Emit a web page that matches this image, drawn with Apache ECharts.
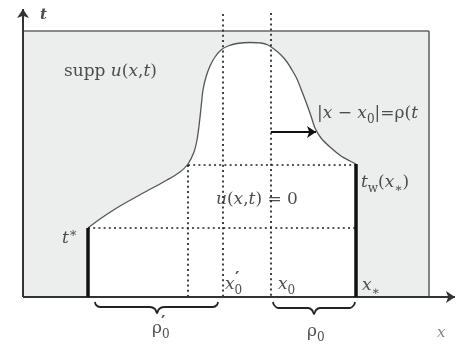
<!DOCTYPE html>
<html>
<head>
<meta charset="utf-8">
<script src="https://cdn.jsdelivr.net/npm/echarts@6/dist/echarts.min.js"></script>
<style>
  html, body { margin: 0; padding: 0; background: #fff; }
  #main { width: 461px; height: 351px; }
</style>
</head>
<body>
<div id="main"></div>
<script>
// diagram units (0..461 across, 0..351 down)
const boxCorners = [[23, 31], [429, 297]];
// free boundary |x - x0| = rho(t)
const curvePts = [
  [88, 228], [100, 219], [120, 206], [145, 192], [167, 180], [180, 172], [188, 164],
  [194, 152], [197, 140], [199, 126], [201, 108], [203, 90], [206, 77], [210, 66],
  [215, 57], [221, 50], [228, 46], [237, 43.5], [250, 42.5], [261, 43], [268, 45],
  [274, 49], [281, 55], [287, 62], [292, 70], [297, 79], [301, 89], [306, 102],
  [311, 116], [315, 128], [321, 138], [330, 147], [341, 156], [350, 161], [356, 164]
];
const frameLines = [[[23, 31], [429, 31]], [[429, 31], [429, 297]]];
const axisLines = [[[23, 297], [23, 9]], [[23, 297], [455, 297]]];
const dottedLines = [
  [[223, 14], [223, 297]], [[271, 13], [271, 297]], [[188, 165], [188, 297]],
  [[188, 165], [356, 165]], [[88, 228], [356, 228]]
];
const thickLines = [[[88, 228], [88, 297]], [[356, 164], [356, 297]]];
const arrowLine = [[[271, 132], [316, 132]]];
const braceLeft = [[95, 302], [96, 305], [100, 307], [150, 307], [155, 309], [157, 313], [159, 309], [164, 307], [213, 307], [217, 305], [218, 302]];
const braceRight = [[273, 302], [274, 305], [278, 308], [308, 308], [312, 310], [314, 314], [316, 310], [320, 308], [350, 308], [354, 305], [355, 302]];
const annotations = [
  [40, 15, '{bi|t}'],
  [64, 72, '{r|supp }{i|u}{r|(}{i|x}{r|,}{i|t}{r|)}'],
  [317, 114, '{r||}{i|x}{r| − }{i|x}{sub|0}{r||=ρ(}{i|t}'],
  [361, 183, '{i|t}{sub|w}{r|(}{i|x}{sub|∗}{r|)}'],
  [216, 200, '{i|u}{r|(}{i|x}{r|,}{i|t}{r|) = 0}'],
  [62, 239, '{i|t}{sup|∗}'],
  [225, 285, '{i|x}{sub|0}'],
  [235, 279, '{p|′}'],
  [278, 285, '{i|x}{sub|0}'],
  [362, 286, '{i|x}{sub|∗}'],
  [152, 329, '{r|ρ}{sub|0}'],
  [161, 323, '{p|′}'],
  [307, 332, '{r|ρ}{sub|0}'],
  [437, 333, '{x|x}']
];

const serif = '"DejaVu Serif", "Liberation Serif", serif';
const ink = '#222';

function segs(list) {
  return list.map(function (s) { return { coords: s }; });
}

const chart = echarts.init(document.getElementById('main'));
chart.setOption({
  animation: false,
  backgroundColor: '#fff',
  grid: { left: 0, right: 0, top: 0, bottom: 0 },
  xAxis: { type: 'value', min: 0, max: 461, show: false },
  yAxis: { type: 'value', min: 0, max: 351, inverse: true, show: false },
  series: [
    {
      type: 'line', data: [], z: 1, silent: true,
      markArea: {
        silent: true,
        itemStyle: { color: '#eceeed' },
        data: [[{ coord: boxCorners[0] }, { coord: boxCorners[1] }]]
      }
    },
    {
      type: 'line', data: curvePts, z: 2, smooth: 0.3, symbol: 'none', silent: true,
      lineStyle: { color: '#555', width: 1.3 },
      areaStyle: { color: '#fff', opacity: 1, origin: 'end' }
    },
    {
      type: 'lines', coordinateSystem: 'cartesian2d', z: 3, silent: true,
      lineStyle: { color: '#666', width: 1.6, opacity: 1 },
      data: segs(frameLines)
    },
    {
      type: 'lines', coordinateSystem: 'cartesian2d', z: 4, silent: true,
      lineStyle: { color: ink, width: 1.7, type: [2, 3.2], opacity: 1 },
      data: segs(dottedLines)
    },
    {
      type: 'lines', coordinateSystem: 'cartesian2d', z: 5, silent: true,
      symbol: ['none', 'arrow'], symbolSize: 9,
      lineStyle: { color: '#333', width: 2, opacity: 1 },
      data: segs(axisLines)
    },
    {
      type: 'lines', coordinateSystem: 'cartesian2d', z: 6, silent: true,
      lineStyle: { color: '#111', width: 3.5, opacity: 1 },
      data: segs(thickLines)
    },
    {
      type: 'lines', coordinateSystem: 'cartesian2d', z: 6, silent: true,
      symbol: ['none', 'arrow'], symbolSize: 9,
      lineStyle: { color: '#111', width: 2.2, opacity: 1 },
      data: segs(arrowLine)
    },
    {
      type: 'line', data: braceLeft, z: 6, smooth: 0.3, symbol: 'none', silent: true,
      lineStyle: { color: '#222', width: 1.8 }
    },
    {
      type: 'line', data: braceRight, z: 6, smooth: 0.3, symbol: 'none', silent: true,
      lineStyle: { color: '#222', width: 1.8 }
    },
    {
      type: 'scatter', z: 10, symbolSize: 0, silent: true,
      data: annotations.map(function (a) {
        return { value: [a[0], a[1]], label: { formatter: a[2] } };
      }),
      label: {
        show: true, position: 'right', distance: 0,
        rich: {
          r: { fontFamily: serif, fontSize: 17, color: ink, lineHeight: 24, verticalAlign: 'middle' },
          i: { fontFamily: serif, fontSize: 17, fontStyle: 'italic', color: ink, lineHeight: 24, verticalAlign: 'middle' },
          bi: { fontFamily: serif, fontSize: 15, fontStyle: 'italic', fontWeight: 'bold', color: ink },
          sub: { fontFamily: serif, fontSize: 12, color: ink, lineHeight: 12, verticalAlign: 'bottom' },
          sup: { fontFamily: serif, fontSize: 13, color: ink, lineHeight: 13, verticalAlign: 'top' },
          p: { fontFamily: serif, fontSize: 17, fontWeight: 'bold', color: ink },
          x: { fontFamily: serif, fontSize: 15, fontStyle: 'italic', color: '#666' }
        }
      }
    }
  ]
});
</script>
</body>
</html>
